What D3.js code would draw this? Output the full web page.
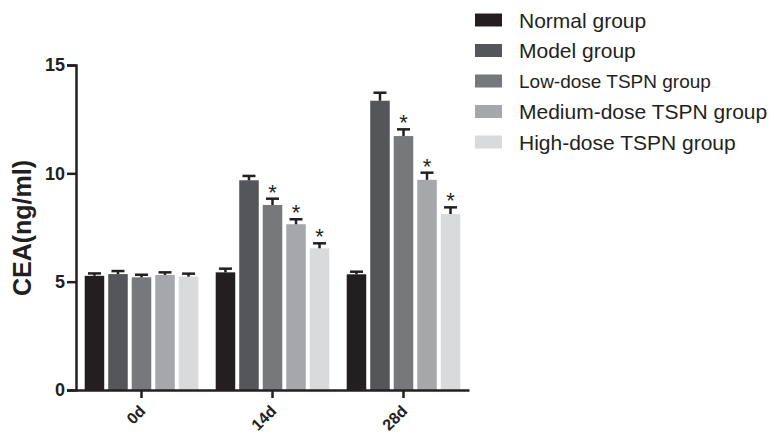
<!DOCTYPE html>
<html>
<head>
<meta charset="utf-8">
<script src="https://d3js.org/d3.v7.min.js"></script>
<style>
  body { margin: 0; background: #fff; }
  text { font-family: "Liberation Sans", Arial, sans-serif; fill: #231f20; }
</style>
</head>
<body>
<svg id="chart" width="774" height="435"></svg>
<script>
// time points and groups
const days = ["0d", "14d", "28d"];
const groups = ["Normal group", "Model group", "Low-dose TSPN group", "Medium-dose TSPN group", "High-dose TSPN group"];
const colors = ["#231f20", "#555659", "#77787c", "#a6a7ab", "#d9dadb"];

// mean CEA per group, one array per time point
const means0 = [5.27, 5.35, 5.20, 5.31, 5.23];
const means14 = [5.43, 9.68, 8.54, 7.65, 6.54];
const means28 = [5.34, 13.35, 11.72, 9.70, 8.12];
// error bar (upper) lengths
const err0 = [0.11, 0.14, 0.12, 0.12, 0.14];
const err14 = [0.17, 0.20, 0.29, 0.23, 0.23];
const err28 = [0.12, 0.37, 0.31, 0.33, 0.31];
// significance stars
const star0 = [false, false, false, false, false];
const star14 = [false, false, true, true, true];
const star28 = [false, false, true, true, true];

const yTicks = [0, 5, 10, 15];

const means = [means0, means14, means28];
const errs = [err0, err14, err28];
const stars = [star0, star14, star28];

const svg = d3.select("#chart");

// scales
const x0 = d3.scaleBand().domain(days).range([76, 469]).padding(0);
const x1 = d3.scaleBand().domain(groups).range([0, x0.bandwidth()])
    .paddingInner(0.17).paddingOuter(0.37);
const y = d3.scaleLinear().domain([0, 15]).range([390, 65]);

// build rows for the bars
const rows = [];
days.forEach((d, i) => {
    groups.forEach((g, j) => {
        rows.push({day: d, group: g, color: colors[j], value: means[i][j], err: errs[i][j], star: stars[i][j]});
    });
});

const plot = svg.append("g");

plot.selectAll("rect.bar")
    .data(rows)
    .enter()
    .append("rect")
    .attr("class", "bar")
    .attr("x", d => x0(d.day) + x1(d.group))
    .attr("y", d => y(d.value))
    .attr("width", x1.bandwidth())
    .attr("height", d => y(0) - y(d.value))
    .attr("fill", d => d.color);

// error bars (upper only)
const cap = 6.5;
const eb = plot.selectAll("g.err")
    .data(rows)
    .enter()
    .append("g")
    .attr("class", "err")
    .attr("transform", d => `translate(${x0(d.day) + x1(d.group) + x1.bandwidth() / 2},0)`);

eb.append("line")
    .attr("x1", 0).attr("x2", 0)
    .attr("y1", d => y(d.value))
    .attr("y2", d => y(d.value + d.err))
    .attr("stroke", "#231f20")
    .attr("stroke-width", 2.5);

eb.append("line")
    .attr("x1", -cap).attr("x2", cap)
    .attr("y1", d => y(d.value + d.err))
    .attr("y2", d => y(d.value + d.err))
    .attr("stroke", "#231f20")
    .attr("stroke-width", 2.5);

eb.filter(d => d.star)
    .append("text")
    .attr("x", 0)
    .attr("y", d => y(d.value + d.err) + 1)
    .attr("text-anchor", "middle")
    .style("font-size", "22px")
    .text("*");

// y axis
const yAxis = svg.append("g")
    .attr("transform", "translate(76,0)")
    .call(d3.axisLeft(y).tickValues(yTicks).tickSize(9).tickPadding(2));
yAxis.select(".domain").attr("stroke", "#231f20").attr("stroke-width", 2.5);
yAxis.selectAll(".tick line").attr("stroke", "#231f20").attr("stroke-width", 2.5);
yAxis.selectAll(".tick text")
    .style("font-family", "'Liberation Sans', Arial, sans-serif")
    .style("font-size", "18px")
    .style("font-weight", "bold")
    .attr("fill", "#231f20");

// x axis
const xAxis = svg.append("g")
    .attr("transform", "translate(0,390)")
    .call(d3.axisBottom(x0).tickSize(8).tickSizeOuter(0));
xAxis.select(".domain").attr("stroke", "#231f20").attr("stroke-width", 2.5);
xAxis.selectAll(".tick line").attr("stroke", "#231f20").attr("stroke-width", 2.5);
xAxis.selectAll(".tick text")
    .style("font-family", "'Liberation Sans', Arial, sans-serif")
    .style("font-size", "16px")
    .style("font-weight", "bold")
    .attr("fill", "#231f20")
    .attr("text-anchor", "end")
    .attr("x", 0).attr("y", 0).attr("dy", null)
    .attr("transform", "translate(5,22) rotate(-45)");

// y axis title
svg.append("text")
    .attr("transform", "translate(31,228) rotate(-90)")
    .attr("text-anchor", "middle")
    .style("font-size", "25px")
    .style("font-weight", "bold")
    .text("CEA(ng/ml)");

// legend
const legend = svg.append("g")
    .selectAll("g")
    .data(groups)
    .enter()
    .append("g")
    .attr("transform", (d, i) => `translate(475,${20 + i * 30.5})`);

legend.append("rect")
    .attr("x", 0).attr("y", -6.5)
    .attr("width", 27).attr("height", 13)
    .attr("fill", (d, i) => colors[i]);

legend.append("text")
    .attr("x", 44)
    .attr("y", 0)
    .attr("dy", "0.36em")
    .style("font-size", (d, i) => i === 2 ? "19px" : "21px")
    .text(d => d);
</script>
</body>
</html>
